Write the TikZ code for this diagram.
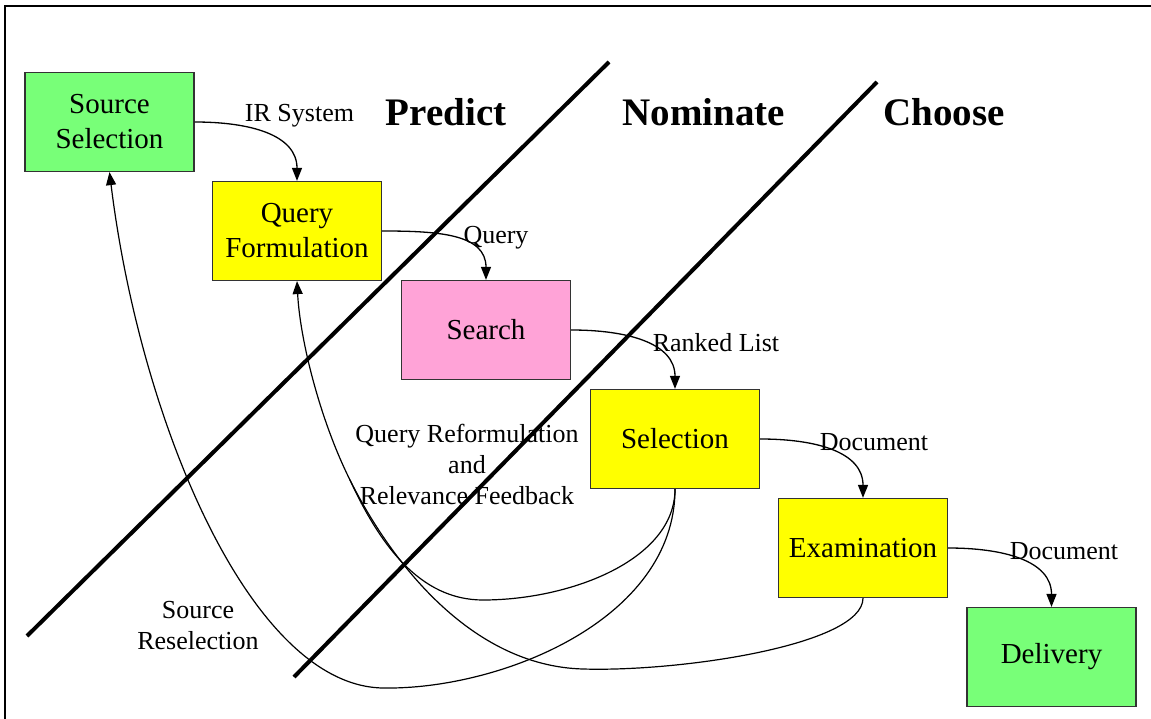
\documentclass[tikz,border=0pt]{standalone}
\usepackage{fontspec}
\setmainfont{Liberation Serif}
\newfontfamily\figserif{Liberation Serif}
\usetikzlibrary{arrows.meta}
\definecolor{boxgreen}{RGB}{120,255,120}
\definecolor{boxyellow}{RGB}{255,255,0}
\definecolor{boxpink}{RGB}{255,163,215}
\begin{document}
\begin{tikzpicture}[x=1pt,y=-1pt,
  stage/.style={draw=black!80, line width=1.2pt, minimum width=169pt, minimum height=99pt,
    inner sep=0pt, align=center, font=\figserif\fontsize{29}{35}\selectfont},
  edgelabel/.style={inner sep=0pt, align=center, font=\figserif\fontsize{26}{31}\selectfont},
  phase/.style={inner sep=0pt, font=\figserif\fontsize{39}{40}\selectfont\bfseries},
  flow/.style={line width=1.3pt, -{Triangle[length=13pt,width=10pt]}},
  back/.style={line width=1.2pt},
  divider/.style={line width=4pt, line cap=butt},
  frameline/.style={line width=2.5pt}]
\useasboundingbox (0,0) rectangle (1151,719);

% frame
\coordinate (fr-tr) at (1151,6);
\coordinate (fr-tl) at (5,6);
\coordinate (fr-bl) at (5,719);
\draw[frameline] (fr-tr) -- (fr-tl) -- (fr-bl);

% dividers
\coordinate (d1a) at (27,636);
\coordinate (d1b) at (609,62);
\coordinate (d2a) at (294,677);
\coordinate (d2b) at (877,82);

% phase headings
\node[phase] (predict) at (446,112) {Predict};
\node[phase] (nominate) at (704,112) {Nominate};
\node[phase] (choose) at (944,112) {Choose};

% boxes
\node[stage, fill=boxgreen] (ss) at (109.5,122) {Source\\Selection};
\node[stage, fill=boxyellow] (qf) at (297,231) {Query\\Formulation};
\node[stage, fill=boxpink] (se) at (486,330) {Search};
\node[stage, fill=boxyellow] (sl) at (675,439) {Selection};
\node[stage, fill=boxyellow] (ex) at (863,548) {Examination};
\node[stage, fill=boxgreen] (de) at (1051.5,657) {Delivery};

% edge labels
\node[edgelabel] (l-ir) at (299.5,116) {IR System};
\node[edgelabel] (l-q) at (496,238) {Query};
\node[edgelabel] (l-rl) at (716,343) {Ranked List};
\node[edgelabel] (l-d1) at (874,442) {Document};
\node[edgelabel] (l-d2) at (1064,551) {Document};
\node[edgelabel] (l-qr) at (467,464) {Query Reformulation\\and\\Relevance Feedback};
\node[edgelabel] (l-sr) at (198,626) {Source\\Reselection};

\draw[divider] (d1a) -- (d1b);
\draw[divider] (d2a) -- (d2b);

% forward flow
\draw[flow] (ss.east) .. controls +(56,0) and +(0,-46) .. (qf.north);
\draw[flow] (qf.east) .. controls +(56,0) and +(0,-46) .. (se.north);
\draw[flow] (se.east) .. controls +(56,0) and +(0,-46) .. (sl.north);
\draw[flow] (sl.east) .. controls +(56,0) and +(0,-46) .. (ex.north);
\draw[flow] (ex.east) .. controls +(56,0) and +(0,-46) .. (de.north);

% feedback
\coordinate (m1) at (483,600);
\coordinate (m2) at (583,669);
\coordinate (m3) at (383,688);
\coordinate (jn) at (350,480);
\draw[back] (sl.south) .. controls (675,560) and (570,600) .. (m1)
  .. controls (420,600) and (380,545) .. (jn);
\draw[back] (ex.south) .. controls (863,645) and (680,672) .. (m2)
  .. controls (470,666) and (390,560) .. (jn);
\draw[flow, line width=1.2pt] (jn) .. controls (320,420) and (300,340) .. (qf.south);
\draw[flow, line width=1.2pt] (sl.south) .. controls (675,620) and (500,690) .. (m3)
  .. controls (250,686) and (140,420) .. (ss.south);
\end{tikzpicture}
\end{document}
